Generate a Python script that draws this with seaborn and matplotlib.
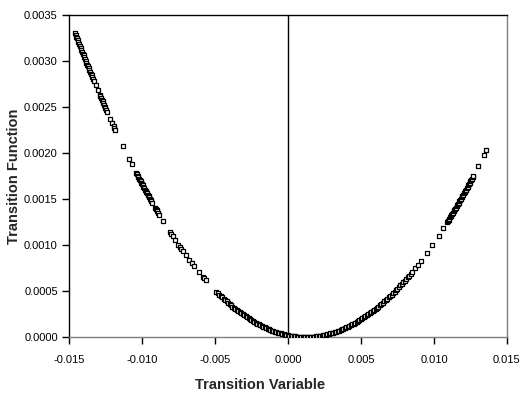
# Transition function vs transition variable scatter (open squares)

import matplotlib
matplotlib.use("Agg")
import pandas as pd
import seaborn as sb
import matplotlib.pyplot as plt

# values
# left branch
left_x = [
    -0.0146, -0.01455, -0.0145, -0.01445, -0.0144, -0.01435, -0.0143,
    -0.01425, -0.0142, -0.01415, -0.0141, -0.01405, -0.0140, -0.01395,
    -0.0139, -0.01385, -0.0138, -0.01375, -0.0137, -0.01365, -0.0136,
    -0.01355, -0.0135, -0.01345, -0.0134, -0.01335, -0.0133,
    -0.01318, -0.01304,
    -0.0129, -0.01285, -0.0128, -0.01275, -0.0127, -0.01265, -0.0126,
    -0.01255, -0.0125, -0.01245, -0.0124,
    -0.01217, -0.01204, -0.01195, -0.01189, -0.01183, -0.01132,
    -0.01088, -0.01071,
    -0.0104, -0.01035, -0.0103, -0.01025, -0.0102, -0.01015, -0.0101,
    -0.01005, -0.0100, -0.00995, -0.0099, -0.00985, -0.0098, -0.00975,
    -0.0097, -0.00965, -0.0096, -0.00955, -0.0095, -0.00945, -0.0094,
    -0.00935, -0.0093,
    -0.0091, -0.00905, -0.0090, -0.00895, -0.0089, -0.0088, -0.00854,
    -0.00808, -0.0080, -0.0079, -0.00774, -0.00751, -0.0074, -0.0073,
    -0.00721, -0.00699, -0.00676, -0.0066, -0.00644, -0.0061,
    -0.00584, -0.00575, -0.00564,
]
left_y = [
    0.003308, 0.003287, 0.003266, 0.003245, 0.003225, 0.003204, 0.003183,
    0.003162, 0.003142, 0.003122, 0.003102, 0.003081, 0.003061, 0.003041,
    0.003021, 0.003001, 0.002981, 0.002961, 0.002942, 0.002922, 0.002902,
    0.002882, 0.002863, 0.002843, 0.002824, 0.002805, 0.002786,
    0.002739, 0.002685,
    0.002634, 0.002616, 0.002597, 0.002578, 0.002560, 0.002542, 0.002523,
    0.002505, 0.002487, 0.002469, 0.002451,
    0.002370, 0.002323, 0.002290, 0.002270, 0.002250, 0.002076,
    0.001932, 0.001880,
    0.001783, 0.001767, 0.001752, 0.001737, 0.001722, 0.001707, 0.001692,
    0.001677, 0.001662, 0.001647, 0.001633, 0.001618, 0.001603, 0.001589,
    0.001574, 0.001560, 0.001545, 0.001531, 0.001517, 0.001503, 0.001489,
    0.001475, 0.001461,
    0.001406, 0.001392, 0.001379, 0.001365, 0.001352, 0.001325, 0.001257,
    0.001141, 0.001121, 0.001097, 0.001059, 0.001005, 0.000980, 0.000957,
    0.000937, 0.000889, 0.000840, 0.000806, 0.000773, 0.000706,
    0.000657, 0.000640, 0.000620,
]

# dense run through the minimum
mid_x = [
    -0.0049, -0.0048, -0.0047, -0.0046, -0.0045, -0.0044, -0.0043,
    -0.0042, -0.0041, -0.0040, -0.0039, -0.0038, -0.0037, -0.0036,
    -0.0035, -0.0034, -0.0033, -0.0032, -0.0031, -0.0030, -0.0029,
    -0.0028, -0.0027, -0.0026, -0.0025, -0.0024, -0.0023, -0.0022,
    -0.0021, -0.0020, -0.0019, -0.0018, -0.0017, -0.0016, -0.0015,
    -0.0014, -0.0013, -0.0012, -0.0011, -0.0010, -0.0009, -0.0008,
    -0.0007, -0.0006, -0.0005, -0.0004, -0.0003, -0.0002, -0.0001,
    0.0000, 0.0001, 0.0002, 0.0003, 0.0004, 0.0005, 0.0006, 0.0007,
    0.0008, 0.0009, 0.0010, 0.0011, 0.0012, 0.0013, 0.0014, 0.0015,
    0.0016, 0.0017, 0.0018, 0.0019, 0.0020, 0.0021, 0.0022, 0.0023,
    0.0024, 0.0025, 0.0026, 0.0027, 0.0028, 0.0029, 0.0030, 0.0031,
    0.0032, 0.0033, 0.0034, 0.0035, 0.0036, 0.0037, 0.0038, 0.0039,
    0.0040, 0.0041, 0.0042, 0.0043, 0.0044, 0.0045, 0.0046, 0.0047,
    0.0048, 0.0049, 0.0050, 0.0051, 0.0052, 0.0053, 0.0054, 0.0055,
    0.0056, 0.0057, 0.0058, 0.0059, 0.0060, 0.0061, 0.0062, 0.0063,
    0.0064, 0.0065,
]
mid_y = [
    0.000493, 0.000477, 0.000461, 0.000446, 0.000430, 0.000416, 0.000401,
    0.000386, 0.000372, 0.000358, 0.000345, 0.000331, 0.000318, 0.000305,
    0.000293, 0.000280, 0.000268, 0.000257, 0.000245, 0.000234, 0.000223,
    0.000212, 0.000202, 0.000191, 0.000181, 0.000172, 0.000162, 0.000153,
    0.000144, 0.000136, 0.000127, 0.000119, 0.000111, 0.000104, 0.0000966,
    0.0000896, 0.0000828, 0.0000763, 0.0000701, 0.0000641, 0.0000584, 0.0000530,
    0.0000478, 0.0000429, 0.0000383, 0.0000339, 0.0000298, 0.0000260, 0.0000224,
    0.0000191, 0.0000160, 0.0000132, 0.0000107, 0.0000085, 0.0000065, 0.0000048,
    0.0000033, 0.0000021, 0.0000012, 0.0000005, 0.0000001, 0.0000000,
    0.0000001, 0.0000005, 0.0000012, 0.0000021, 0.0000033, 0.0000048,
    0.0000065, 0.0000085, 0.0000107, 0.0000132, 0.0000160, 0.0000191,
    0.0000224, 0.0000260, 0.0000298, 0.0000339, 0.0000383, 0.0000429,
    0.0000478, 0.0000530, 0.0000584, 0.0000641, 0.0000701, 0.0000763,
    0.0000828, 0.0000896, 0.0000966, 0.000104, 0.000111, 0.000119,
    0.000127, 0.000136, 0.000144, 0.000153, 0.000162, 0.000172,
    0.000181, 0.000191, 0.000202, 0.000212, 0.000223, 0.000234,
    0.000245, 0.000257, 0.000268, 0.000280, 0.000293, 0.000305,
    0.000318, 0.000331, 0.000345, 0.000358, 0.000372,
]

# right branch
right_x = [
    0.0066, 0.0067, 0.0068, 0.0069, 0.0070, 0.0071, 0.0072, 0.0073,
    0.0074, 0.0075, 0.0076, 0.0077, 0.0078, 0.0079, 0.0080, 0.0081,
    0.0082, 0.0083, 0.0084, 0.0085, 0.0087, 0.0089, 0.0091, 0.0095,
    0.0099, 0.01032, 0.01064,
    0.0109, 0.01095, 0.0110, 0.01105, 0.0111, 0.01115, 0.0112, 0.01125,
    0.0113, 0.01135, 0.0114, 0.01145, 0.0115, 0.01155, 0.0116, 0.01165,
    0.0117, 0.01175, 0.0118, 0.01185, 0.0119, 0.01195, 0.0120, 0.01205,
    0.0121, 0.01215, 0.0122, 0.01225, 0.0123, 0.01235, 0.0124, 0.01245,
    0.0125, 0.01255, 0.0126, 0.01265, 0.0127,
    0.01304, 0.01342, 0.0136,
]
right_y = [
    0.000386, 0.000401, 0.000416, 0.000430, 0.000446, 0.000461, 0.000477,
    0.000493, 0.000509, 0.000526, 0.000543, 0.000560, 0.000577, 0.000595,
    0.000613, 0.000631, 0.000649, 0.000668, 0.000687, 0.000706, 0.000745,
    0.000786, 0.000827, 0.000913, 0.001003, 0.001102, 0.001181,
    0.001247, 0.001260, 0.001273, 0.001286, 0.001299, 0.001312, 0.001325,
    0.001338, 0.001352, 0.001365, 0.001379, 0.001392, 0.001406, 0.001419,
    0.001433, 0.001447, 0.001461, 0.001475, 0.001489, 0.001503, 0.001517,
    0.001531, 0.001545, 0.001560, 0.001574, 0.001589, 0.001603, 0.001618,
    0.001633, 0.001647, 0.001662, 0.001677, 0.001692, 0.001707, 0.001722,
    0.001737, 0.001752,
    0.001858, 0.001979, 0.002037,
]

x_ticks = [-0.015, -0.010, -0.005, 0.000, 0.005, 0.010, 0.015]
x_tick_labels = ["-0.015", "-0.010", "-0.005", "0.000", "0.005", "0.010", "0.015"]
y_ticks = [0.0000, 0.0005, 0.0010, 0.0015, 0.0020, 0.0025, 0.0030, 0.0035]
y_tick_labels = ["0.0000", "0.0005", "0.0010", "0.0015", "0.0020", "0.0025", "0.0030", "0.0035"]

df = pd.DataFrame({"Transition Variable": left_x + mid_x + right_x,
                   "Transition Function": left_y + mid_y + right_y})

sb.set_style("white")
plt.rcParams["font.family"] = ["Liberation Sans", "DejaVu Sans"]

fig = plt.figure(figsize=(5.21, 4.01), dpi=100)
ax = fig.add_axes([0.1324, 0.1596, 0.8406, 0.8030])

# zero line
ax.axvline(0, color="black", linewidth=1.0, zorder=1)

sb.scatterplot(data=df, x="Transition Variable", y="Transition Function",
               marker="s", s=10, facecolor="white", edgecolor="black",
               linewidth=0.9, ax=ax, zorder=3)

ax.set_xlim(-0.015, 0.015)
ax.set_ylim(0, 0.0035)
ax.set_xticks(x_ticks)
ax.set_xticklabels(x_tick_labels)
ax.set_yticks(y_ticks)
ax.set_yticklabels(y_tick_labels)
ax.tick_params(axis="both", direction="out", length=5, width=1,
               labelsize=8, pad=3, bottom=True, left=True, colors="black")
ax.tick_params(axis="x", pad=8)

for side in ["left", "top"]:
    ax.spines[side].set_color("black")
    ax.spines[side].set_linewidth(1.0)
for side in ["bottom", "right"]:
    ax.spines[side].set_color("#7f7f7f")
    ax.spines[side].set_linewidth(1.0)

ax.set_xlabel("")
ax.set_ylabel("")
fig.text(14 / 521, 1 - 176 / 401, "Transition Function", rotation=90,
         ha="center", va="center", fontsize=10.5, fontweight="bold")
fig.text(0.5, 1 - 385 / 401, "Transition Variable", ha="center", va="center",
         fontsize=10.5, fontweight="bold")

fig.savefig("out.png", dpi=100)
